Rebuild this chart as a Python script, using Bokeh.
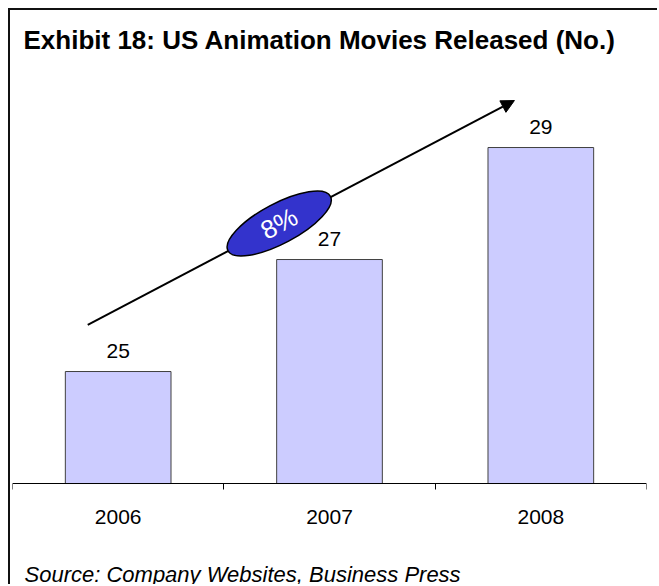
from bokeh.plotting import figure
from bokeh.models import (Range1d, LinearAxis, FixedTicker, Arrow, NormalHead,
                          Label, ColumnDataSource)
from bokeh.core.properties import value
from bokeh.embed import file_html
from bokeh.resources import INLINE

# ---- data ----
years = ["2006", "2007", "2008"]
movies = [25, 27, 29]
cagr_label = "8%"
title_text = "Exhibit 18: US Animation Movies Released (No.)"
source_text = "Source: Company Websites, Business Press"

y_base = 23
FONT = "Liberation Sans"

xs = [i + 0.5 for i in range(len(years))]
src = ColumnDataSource(dict(x=xs, top=movies, lbl=[str(v) for v in movies]))

p = figure(width=649, height=576, output_backend="svg", toolbar_location=None,
           x_range=Range1d(0, len(years)), y_range=Range1d(21.161, 30.554),
           x_axis_location=None, y_axis_location=None,
           min_border_left=2, min_border_right=13, min_border_top=50,
           min_border_bottom=0)
p.grid.visible = False
p.outline_line_color = None
p.background_fill_color = "white"
p.border_fill_color = "white"
p.styles = {"border-left": "2px solid #111111", "border-top": "2px solid #111111",
            "margin-left": "8px", "margin-top": "8px"}

# title
p.title.text = title_text
p.title.text_font = FONT
p.title.text_font_size = "26px"
p.title.text_font_style = "bold"
p.title.text_color = "black"
p.title.align = "left"
p.title.offset = 11
p.title.standoff = 12

# x axis at the bar base: labels at centres, ticks at boundaries
xax = LinearAxis(ticker=FixedTicker(ticks=xs, minor_ticks=list(range(len(years) + 1))),
                 major_label_overrides={x: y for x, y in zip(xs, years)},
                 fixed_location=y_base)
xax.major_tick_line_color = None
xax.major_tick_in = 0
xax.major_tick_out = 0
xax.minor_tick_in = 0
xax.minor_tick_out = 6
xax.minor_tick_line_color = "black"
xax.axis_line_color = "black"
xax.major_label_text_font = FONT
xax.major_label_text_font_size = "21px"
xax.major_label_text_color = "black"
xax.major_label_standoff = 20
p.add_layout(xax, "below")

# source note
p.add_layout(Label(x=12, y=12, x_units="screen", y_units="screen",
                   text=source_text, text_font=FONT, text_font_size="22px",
                   text_font_style="italic", text_color="black",
                   text_baseline="alphabetic", text_align="left"))

# bars
p.vbar(x="x", top="top", bottom=y_base, width=0.5, source=src,
       fill_color="#ccccff", line_color="#404040", line_width=1)
p.text(x="x", y="top", text="lbl", source=src, text_align="center",
       text_baseline="alphabetic", y_offset=-21, text_font=value(FONT),
       text_font_size="21px", text_color="black")

# growth arrow with CAGR ellipse
arr = Arrow(x_start=0.356, y_start=25.834, x_end=2.375, y_end=29.839,
            line_color="black", line_width=2,
            end=NormalHead(size=13, fill_color="black", line_color="black"))
arr.level = "underlay"
p.add_layout(arr)
p.ellipse(x=[1.262], y=[27.643], width=[116], height=[40], angle=[0.4887],
          width_units="screen", height_units="screen",
          fill_color="#3333cc", line_color="black", line_width=1.5)
p.text(x=[1.262], y=[27.643], text=[cagr_label], angle=[0.4887],
       text_align="center", text_baseline="middle", text_font=value(FONT),
       text_font_size="26px", text_color="white")

open("out.html", "w").write(file_html(p, INLINE))
